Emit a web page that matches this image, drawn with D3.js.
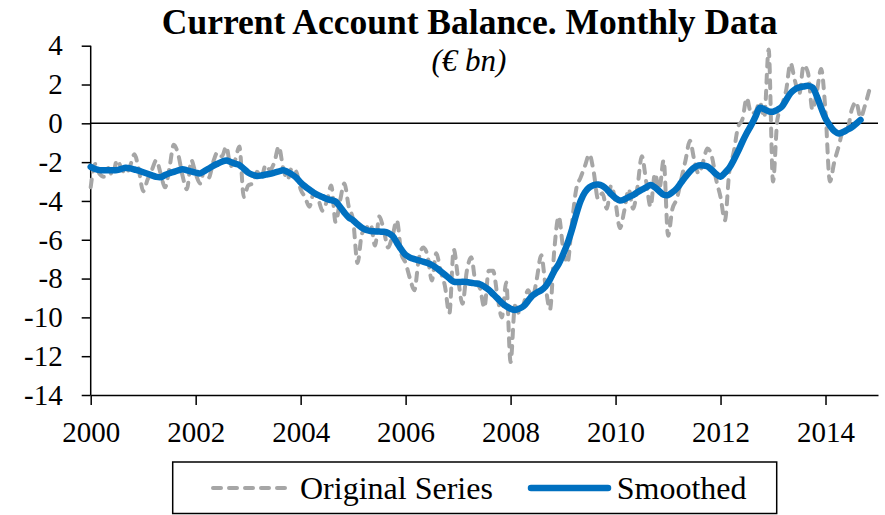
<!DOCTYPE html>
<html><head><meta charset="utf-8">
<script src="https://cdn.jsdelivr.net/npm/d3@7/dist/d3.min.js"></script>
<style>body{margin:0;background:#fff}svg{display:block}text{font-family:"Liberation Serif","Times New Roman",serif;fill:#000}</style>
</head><body><svg id="c" width="885" height="515"></svg>
<script>
const title = "Current Account Balance. Monthly Data";
const subtitle = "(€ bn)";
const seriesNames = ["Original Series", "Smoothed"];
const startYear = 2000;
const xTicks = [2000, 2002, 2004, 2006, 2008, 2010, 2012, 2014];
const yTicks = [4, 2, 0, -2, -4, -6, -8, -10, -12, -14];
// monthly values, Jan 2000 onward
const original = [
-3.3,-2.1,-2.6,-2.75,-2.3,-2.7,-1.9,-2.3,-2.6,-2.2,-1.6,-2.4,
-3.5,-2.9,-2.4,-1.9,-2.6,-3.3,-2.3,-1.1,-1.6,-2.7,-3.4,-1.9,
-2.6,-3.1,-2.4,-2.8,-2.0,-1.5,-1.7,-1.2,-2.2,-1.9,-1.2,-3.8,
-3.2,-3.1,-2.5,-2.8,-2.15,-2.4,-2.0,-1.2,-2.3,-2.9,-2.3,-2.5,
-3.4,-3.8,-4.3,-3.6,-3.9,-4.5,-4.0,-3.2,-5.1,-4.0,-3.1,-4.3,
-5.0,-7.2,-5.7,-5.4,-5.2,-6.3,-4.8,-5.5,-6.4,-5.8,-5.0,-6.7,
-7.2,-8.0,-8.6,-7.0,-6.4,-6.8,-8.1,-6.7,-7.6,-8.4,-9.8,-6.5,
-8.0,-9.3,-7.6,-6.9,-8.2,-8.5,-9.5,-7.6,-7.6,-8.9,-10.0,-8.2,
-12.3,-9.4,-9.8,-9.3,-8.6,-9.0,-8.0,-6.8,-8.4,-9.6,-6.5,-4.8,
-6.4,-7.2,-5.2,-3.4,-2.8,-2.2,-1.6,-2.5,-3.9,-3.6,-4.4,-3.2,
-4.1,-5.4,-4.5,-3.4,-4.4,-3.3,-1.7,-3.0,-4.3,-2.6,-3.4,-1.9,
-5.8,-4.4,-3.9,-2.9,-1.9,-0.9,-1.9,-2.6,-2.0,-1.3,-1.7,-2.9,
-3.8,-5.0,-2.5,-1.5,-0.2,0.2,1.3,0.5,0.6,1.1,0.3,3.8,
-3.0,0.2,0.9,1.7,3.1,2.2,1.5,3.0,2.6,0.7,1.6,2.8,
0.6,-3.0,-2.0,-1.2,-0.4,-0.3,0.7,1.1,0.3,0.9,1.7
];
const smoothed = [
-2.24,-2.35,-2.41,-2.42,-2.42,-2.42,-2.41,-2.35,-2.29,-2.32,-2.38,-2.44,
-2.52,-2.60,-2.68,-2.76,-2.78,-2.66,-2.57,-2.50,-2.42,-2.37,-2.42,-2.48,
-2.54,-2.58,-2.46,-2.33,-2.19,-2.08,-1.98,-1.91,-1.99,-2.08,-2.15,-2.34,
-2.54,-2.65,-2.71,-2.69,-2.64,-2.60,-2.54,-2.48,-2.42,-2.50,-2.63,-2.80,
-3.05,-3.25,-3.42,-3.58,-3.70,-3.80,-3.90,-3.96,-4.03,-4.30,-4.60,-4.85,
-5.00,-5.20,-5.38,-5.50,-5.55,-5.57,-5.58,-5.59,-5.65,-5.80,-6.15,-6.50,
-6.78,-6.92,-7.00,-7.06,-7.13,-7.20,-7.30,-7.45,-7.62,-7.80,-8.00,-8.16,
-8.18,-8.17,-8.18,-8.22,-8.25,-8.29,-8.42,-8.58,-8.80,-9.02,-9.25,-9.43,
-9.55,-9.62,-9.55,-9.42,-9.15,-8.88,-8.72,-8.60,-8.40,-8.05,-7.60,-7.25,
-6.75,-6.20,-5.50,-4.70,-4.00,-3.55,-3.30,-3.18,-3.15,-3.22,-3.40,-3.65,
-3.85,-3.98,-3.92,-3.80,-3.70,-3.55,-3.42,-3.30,-3.18,-3.30,-3.50,-3.68,
-3.70,-3.55,-3.35,-3.05,-2.75,-2.48,-2.28,-2.17,-2.17,-2.22,-2.40,-2.62,
-2.75,-2.55,-2.30,-1.90,-1.45,-0.95,-0.50,-0.10,0.35,0.80,0.72,0.62,
0.60,0.70,0.85,1.20,1.55,1.75,1.85,1.90,1.93,1.85,1.40,0.80,
0.25,-0.12,-0.40,-0.52,-0.45,-0.33,-0.20,-0.02,0.18
];

const svg = d3.select("#c");
const x = d3.scaleLinear().domain([2000, 2015]).range([90.7, 878]);
const y = d3.scaleLinear().domain([-14, 4]).range([395, 45.7]);
const t = i => startYear + i / 12;

// title
svg.append("text").attr("x", 469.6).attr("y", 34).attr("text-anchor", "middle")
  .style("font-size", "35.5px").style("font-weight", "bold").text(title);
svg.append("text").attr("x", 469).attr("y", 71).attr("text-anchor", "middle")
  .style("font-size", "31px").style("font-style", "italic").text(subtitle);

// zero line
svg.append("line").attr("x1", x(2000)).attr("x2", x(2015)).attr("y1", y(0)).attr("y2", y(0))
  .attr("stroke", "#000").attr("stroke-width", 1.5);

// axes
const fmt = d => String(d);
const yAxis = svg.append("g").attr("transform", `translate(${x(2000)},0)`)
  .call(d3.axisLeft(y).tickValues(yTicks).tickSize(9).tickSizeOuter(0).tickPadding(19).tickFormat(fmt));
const xAxis = svg.append("g").attr("transform", `translate(0,${y(-14)})`)
  .call(d3.axisBottom(x).tickValues(xTicks).tickSize(10).tickSizeOuter(0).tickPadding(16).tickFormat(fmt));
[yAxis, xAxis].forEach(a => {
  a.select(".domain").attr("stroke", "#000").attr("stroke-width", 1.5);
  a.selectAll(".tick line").attr("stroke", "#000").attr("stroke-width", 1.5);
  a.selectAll("text").style("font-family", "'Liberation Serif',serif").style("font-size", "29px").attr("fill", "#000");
});
yAxis.select(".domain").attr("d", `M0,${y(4)}V${y(-14)}`);

// series
const line = d3.line().x((d, i) => x(t(i))).y(d => y(d)).curve(d3.curveMonotoneX);
svg.append("path").datum(original).attr("d", line).attr("fill", "none")
  .attr("stroke", "#A6A6A6").attr("stroke-width", 4).attr("stroke-dasharray", "8,8")
  .attr("stroke-linecap", "round");
const sline = d3.line().x((d, i) => x(t(i))).y(d => y(d)).curve(d3.curveCatmullRom);
svg.append("path").datum(smoothed).attr("d", sline).attr("fill", "none")
  .attr("stroke", "#0070C0").attr("stroke-width", 6.5).attr("stroke-linecap", "round")
  .attr("stroke-linejoin", "round");

// legend
const lg = svg.append("g");
lg.append("rect").attr("x", 172.7).attr("y", 462).attr("width", 604).attr("height", 51.5)
  .attr("fill", "none").attr("stroke", "#000").attr("stroke-width", 1.5);
lg.append("line").attr("x1", 213).attr("x2", 290).attr("y1", 488).attr("y2", 488)
  .attr("stroke", "#A6A6A6").attr("stroke-width", 4).attr("stroke-dasharray", "8,8").attr("stroke-linecap", "round");
lg.append("text").attr("x", 300).attr("y", 499).style("font-size", "32px").text(seriesNames[0]);
lg.append("line").attr("x1", 531).attr("x2", 608).attr("y1", 488).attr("y2", 488)
  .attr("stroke", "#0070C0").attr("stroke-width", 6.5).attr("stroke-linecap", "round");
lg.append("text").attr("x", 616.7).attr("y", 499).style("font-size", "32px").text(seriesNames[1]);
</script></body></html>
